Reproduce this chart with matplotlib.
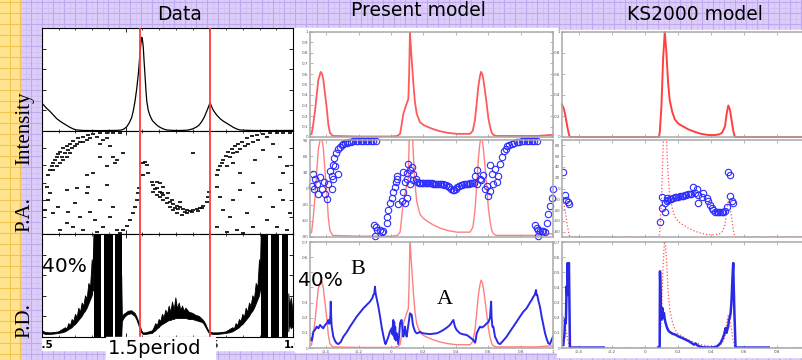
import numpy as np
import matplotlib
matplotlib.use("Agg")
import matplotlib.pyplot as plt
from matplotlib.patches import Rectangle
from matplotlib.transforms import Bbox

W, H = 802, 360
NAN = float("nan")

# ---------------- Data panel (observations, 1.5 period) ----------------
data_red_phases = [0.086, 0.504]

data_int_phase = [-0.5, -0.492, -0.472, -0.452, -0.432, -0.412, -0.392, -0.373, -0.353, -0.333,
                  -0.313, -0.293, -0.25, -0.15, -0.05, -0.024, -0.01, 0.006, 0.02, 0.036,
                  0.046, 0.056, 0.066, 0.076, 0.081, 0.086, 0.091, 0.096, 0.1, 0.105,
                  0.11, 0.116, 0.121, 0.126, 0.135, 0.145, 0.16, 0.175, 0.19, 0.205,
                  0.225, 0.245, 0.28, 0.325, 0.37, 0.4, 0.425, 0.44, 0.454, 0.47,
                  0.484, 0.494, 0.504, 0.514, 0.524, 0.544, 0.564, 0.584, 0.604, 0.624,
                  0.643, 0.663, 0.683, 0.75, 0.85, 0.95, 1.0]
data_int_value = [0.27, 0.255, 0.22, 0.19, 0.155, 0.12, 0.095, 0.075, 0.055, 0.036,
                  0.02, 0.01, 0.005, 0.004, 0.006, 0.01, 0.02, 0.04, 0.075, 0.13,
                  0.2, 0.29, 0.41, 0.56, 0.66, 0.76, 0.85, 0.91, 0.89, 0.82,
                  0.68, 0.53, 0.40, 0.29, 0.2, 0.15, 0.1, 0.075, 0.052, 0.036,
                  0.02, 0.01, 0.006, 0.005, 0.008, 0.02, 0.04, 0.06, 0.09, 0.135,
                  0.19, 0.23, 0.275, 0.235, 0.20, 0.155, 0.12, 0.095, 0.075, 0.055,
                  0.036, 0.02, 0.01, 0.005, 0.004, 0.005, 0.006]

data_pa_phase = [-0.462, -0.452, -0.442, -0.432, -0.422, -0.412, -0.402, -0.392, -0.373, -0.353,
                 -0.333, -0.313, -0.283, -0.253, -0.223, -0.193, -0.153, -0.114, -0.074, -0.034,
                 -0.382, -0.363, -0.343, -0.323, -0.303, -0.293, -0.273, -0.253, -0.233, -0.213,
                 -0.173, -0.153, -0.133, -0.114, -0.094, -0.074, -0.054, -0.432, -0.412, -0.392,
                 -0.373, -0.353, -0.333,
                 -0.233, -0.193, -0.153, -0.114, -0.064, -0.014,
                 0.106, 0.116, 0.125, 0.135, 0.106, 0.404,
                 0.544, 0.554, 0.564, 0.574, 0.584, 0.600, 0.614, 0.633, 0.653, 0.673,
                 0.693, 0.723, 0.753, 0.783, 0.823, 0.863, 0.902, 0.942, 0.982,
                 0.624, 0.643, 0.663, 0.683, 0.713, 0.733, 0.763, 0.793, 0.843, 0.882,
                 0.922, 0.962, 0.604, 0.643, 0.683, 0.773, 0.823, 0.942,
                 -0.472, -0.452, -0.462, -0.482, -0.432, -0.402, -0.353, -0.303, -0.273, -0.233,
                 -0.213, -0.183, -0.153, -0.133, -0.094, -0.074, -0.054, -0.313, -0.253, -0.353,
                 -0.392, -0.173, -0.114, -0.223, -0.293, -0.343,
                 -0.034, -0.014, 0.006, 0.026, 0.042, 0.056, 0.066, 0.072, 0.078,
                 0.155, 0.165, 0.185, 0.205, 0.225, 0.245, 0.265, 0.285, 0.305, 0.325,
                 0.345, 0.365, 0.384, 0.404, 0.424, 0.444, 0.464, 0.484, 0.494, 0.5,
                 0.185, 0.205, 0.225, 0.245, 0.265, 0.285, 0.305, 0.335, 0.365, 0.205,
                 0.165, 0.255, 0.325, 0.185, 0.225, 0.175, 0.215, 0.275, 0.295, 0.315,
                 0.355, 0.395, 0.435, 0.455,
                 0.544, 0.564, 0.584, 0.624, 0.643, 0.683, 0.723, 0.763, 0.803, 0.843,
                 0.882, 0.922, 0.962, 0.982, 0.663, 0.703, 0.544, 0.604, 0.763, 0.902, 0.942]
data_pa_angle = [13, 22, 28, 33.5, 39, 45, 50, 54, 60, 64,
                 68, 73, 77, 80, 83, 85, 86, 86, 87, 87,
                 45, 51, 57, 60, 63, 68, 70, 71, 74, 77,
                 80, 68, 74, 77, 63, 45, 39, 22, 28, 33.5,
                 39, 45, 51,
                 13, 16, 45, 28, 33.5, 51,
                 33.5, 36, 31, 16, 13, 51,
                 13, 22, 28, 33.5, 40, 46, 54, 58, 63, 67,
                 71, 77, 81, 83, 85, 86, 86, 87, 87,
                 45, 51, 54, 58, 63, 68, 71, 75, 80, 68,
                 45, 28, 28, 33.5, 16, 39, 57, 16,
                 -7.3, -19, -30.6, -48, -53.9, -42.2, -13.1, -36.4, -59.7, -19,
                 -51, -65.5, -30.6, -77.2, -59.7, -42.2, -83, -77.2, -83, -71.4,
                 -83, -86, -4.4, -7.3, -10.2, -51,
                 -88.8, -83, -76, -65.5, -53.9, -42.2, -30.6, -19, -10.2,
                 1.5, -4.4, -10.2, -16, -21.8, -27.7, -33.5, -37.6, -41, -43.4,
                 -46.9, -48, -49.2, -48, -46.9, -45.1, -41, -33.5, -24.8, -16,
                 -21.8, -24.8, -30.6, -36.4, -42.2, -48, -53.9, -56.8, -53.9, -1.5,
                 -16, -19, -33.5, 1.5, -7.3, -12, -19, -30, -45, -47,
                 -51, -52, -50, -44,
                 -7.3, -24.8, -48, -59.7, -30.6, -13.1, -53.9, -77.2, -24.8, -65.5,
                 -42.2, -13.1, -83, -53.9, -83, -88.8, -77.2, -86, -1.5, -77.2, -30.6]

data_pd_phase = [-0.50, -0.48, -0.45, -0.42, -0.40, -0.38, -0.36, -0.35, -0.34, -0.33,
                 -0.32, -0.31, -0.30, -0.29, -0.28, -0.27, -0.26, -0.25, -0.24, -0.23,
                 -0.22, -0.21, -0.20, -0.195, -0.19, NAN,
                 -0.024, -0.02, -0.01, 0.0, 0.016, 0.036, 0.056, 0.066, 0.075, 0.086,
                 0.096, 0.105, 0.12, 0.14, 0.16, 0.17, 0.18, 0.19, 0.20, 0.21,
                 0.22, 0.23, 0.24, 0.25, 0.26, 0.27, 0.28, 0.29, 0.30, 0.31,
                 0.32, 0.33, 0.34, 0.35, 0.36, 0.38, 0.40, 0.42, 0.44, 0.46,
                 0.47, 0.48, 0.49, 0.50, 0.52, 0.55, 0.58, 0.60, 0.62, 0.64,
                 0.65, 0.66, 0.67, 0.68, 0.69, 0.70, 0.71, 0.72, 0.73, 0.74,
                 0.75, 0.76, 0.77, 0.78, 0.79, 0.80, 0.805, 0.81, NAN,
                 0.975, 0.98, 0.99, 1.0]
data_pd_low = [0.04, 0.025, 0.025, 0.03, 0.035, 0.04, 0.05, 0.06, 0.07, 0.08,
               0.09, 0.11, 0.12, 0.14, 0.16, 0.18, 0.20, 0.23, 0.25, 0.28,
               0.32, 0.36, 0.40, 0.45, 0.45, NAN,
               0.0, 0.15, 0.18, 0.20, 0.22, 0.225, 0.20, 0.17, 0.13, 0.08,
               0.04, 0.025, 0.025, 0.03, 0.035, 0.05, 0.06, 0.08, 0.09, 0.11,
               0.12, 0.13, 0.14, 0.15, 0.16, 0.16, 0.17, 0.17, 0.18, 0.18,
               0.18, 0.18, 0.18, 0.18, 0.18, 0.17, 0.17, 0.16, 0.15, 0.14,
               0.12, 0.09, 0.06, 0.035, 0.025, 0.025, 0.03, 0.035, 0.04, 0.05,
               0.06, 0.07, 0.08, 0.09, 0.11, 0.12, 0.14, 0.16, 0.18, 0.20,
               0.23, 0.25, 0.28, 0.32, 0.36, 0.40, 0.45, 0.45, NAN,
               0.05, 0.12, 0.08, 0.10]
data_pd_high = [0.06, 0.045, 0.04, 0.045, 0.05, 0.07, 0.09, 0.08, 0.13, 0.11,
                0.17, 0.15, 0.22, 0.19, 0.28, 0.24, 0.33, 0.30, 0.40, 0.37,
                0.52, 0.48, 0.75, 0.62, 1.0, NAN,
                0.6, 0.19, 0.22, 0.23, 0.25, 0.255, 0.23, 0.20, 0.16, 0.11,
                0.06, 0.04, 0.04, 0.05, 0.06, 0.09, 0.13, 0.11, 0.17, 0.15,
                0.22, 0.19, 0.26, 0.22, 0.30, 0.24, 0.34, 0.26, 0.38, 0.27,
                0.33, 0.26, 0.30, 0.25, 0.28, 0.24, 0.23, 0.21, 0.20, 0.17,
                0.15, 0.12, 0.08, 0.05, 0.04, 0.04, 0.045, 0.05, 0.07, 0.09,
                0.08, 0.13, 0.11, 0.17, 0.15, 0.22, 0.19, 0.28, 0.24, 0.33,
                0.30, 0.40, 0.37, 0.52, 0.48, 0.75, 0.62, 1.0, NAN,
                0.42, 0.30, 0.38, 0.25]
data_pd_block_start = [-0.19, -0.13, -0.066, 0.81, 0.868, 0.934]
data_pd_block_end = [-0.145, -0.078, -0.024, 0.853, 0.918, 0.972]

data_xticks = [-0.5, 0.0, 0.5, 1.0]
data_xticklabels = ["-0.5", "", "0.5", "1.0"]  # "0" sits under the "1.5period" box

# ---------------- Present model ----------------
present_int_phase = [-0.50, -0.49, -0.48, -0.469, -0.449, -0.434, -0.425, -0.418, -0.408, -0.397,
                     -0.387, -0.377, -0.36, -0.2, 0.0, 0.04, 0.056, 0.066, 0.076, 0.097,
                     0.107, 0.112, 0.117, 0.125, 0.138, 0.148, 0.159, 0.179, 0.20, 0.22,
                     0.26, 0.302, 0.35, 0.405, 0.488, 0.505, 0.518, 0.529, 0.539, 0.549,
                     0.556, 0.563, 0.570, 0.58, 0.591, 0.601, 0.611, 0.622, 0.632, 0.65,
                     0.9, 0.99, 1.0]
present_int_value = [0.02, 0.03, 0.12, 0.25, 0.54, 0.62, 0.60, 0.55, 0.42, 0.28,
                     0.12, 0.04, 0.01, 0.005, 0.005, 0.01, 0.03, 0.12, 0.22, 0.32,
                     0.36, 0.6, 1.0, 0.8, 0.51, 0.33, 0.22, 0.14, 0.115, 0.10,
                     0.075, 0.055, 0.04, 0.03, 0.03, 0.06, 0.16, 0.32, 0.48, 0.58,
                     0.62, 0.60, 0.55, 0.44, 0.31, 0.18, 0.10, 0.04, 0.02, 0.01,
                     0.01, 0.02, 0.02]

present_pa_phase = [-0.481, -0.469, -0.457, -0.475, -0.438, -0.426, -0.407, -0.389, -0.377, -0.358,
                    -0.346, -0.327, -0.364, -0.395, -0.451, -0.49, -0.415,
                    -0.366, -0.360, -0.352, -0.340, -0.325, -0.304, -0.284, -0.257, -0.233, -0.202,
                    -0.171, -0.140, -0.109, -0.093, -0.315, -0.294, -0.27, -0.245, -0.218, -0.186,
                    -0.155, -0.124,
                    -0.103, -0.093, -0.084, -0.068, -0.047, -0.099, -0.058,
                    -0.027, -0.023, -0.017, -0.006, 0.004, 0.014, 0.025, 0.031, 0.039,
                    0.045, 0.066, 0.086, 0.097, 0.076,
                    0.035, 0.076, 0.107, 0.117, 0.138, 0.154, 0.097, 0.086, 0.117, 0.138, 0.127, 0.1,
                    0.16, 0.17, 0.18, 0.19, 0.20, 0.21, 0.22, 0.23, 0.24, 0.25, 0.26, 0.27,
                    0.28, 0.29, 0.30, 0.31, 0.32, 0.33, 0.34, 0.35, 0.36, 0.37, 0.38, 0.39,
                    0.40, 0.41, 0.42, 0.43, 0.44, 0.45, 0.46, 0.47, 0.48, 0.49, 0.50, 0.51,
                    0.519, 0.529, 0.549, 0.611, 0.622, 0.642, 0.529, 0.555, 0.580, 0.601,
                    0.611, 0.632, 0.652, 0.57, 0.59,
                    0.662, 0.673, 0.683, 0.698, 0.718, 0.745, 0.776, 0.807, 0.838, 0.869,
                    0.900, 0.708, 0.73, 0.76, 0.79, 0.822, 0.853, 0.885,
                    0.889, 0.899, 0.909, 0.930, 0.951, 0.909, 0.961, 0.971, 0.981, 0.992,
                    1.0, 0.92, 0.94]
present_pa_angle = [27, 18, 8.5, -1, 22, -1, -10, 8.5, 33, 18,
                    41, 27, -1, -20, -10, 5, 12,
                    24, 43, 56, 65, 73, 81, 84, 86, 87.5, 88,
                    88, 88.5, 88.5, 89, 77, 82.5, 85, 87, 88, 88,
                    88.5, 88.5,
                    -67, -72, -77, -77, -78, -88, -80,
                    -64, -52, -39, -26, -17, -7, 2, 12, 18,
                    -29, -23, -26, -17, -7,
                    24, 31, 46, 34, 27, 18, 18, 12, 8.5, 15, 40, 28,
                    12, 11, 11, 10.5, 10.5, 10, 10, 9.5, 9.5, 9.5, 9, 9,
                    9, 8.5, 8.5, 8, 7.5, 7, 6, 4, 2, 0, -2, -3,
                    -1, 3, 5, 6, 7, 7.5, 8, 8.5, 9, 9.5, 10, 11,
                    24, 34, 18, 43, 27, 37, 8.5, 15, -1, -14,
                    -4, 8.5, 12, 25, 5,
                    24, 46, 59, 70, 78, 83, 86, 87.5, 88, 88,
                    88.5, 74, 81, 85, 87, 88, 88, 88.5,
                    -67, -74, -77, -78, -80, -89, -64, -48, -33, -17,
                    -1, -79, -79]

present_pd_phase = [-0.5, -0.496, -0.489, -0.479, -0.469, -0.459, -0.448, -0.438, -0.428, -0.418,
                    -0.408, -0.397, -0.392, -0.387, -0.382, -0.377, -0.374, -0.372, -0.369, -0.366,
                    -0.356, -0.345, -0.335, -0.325, -0.31, -0.294, -0.273, -0.253, -0.232, -0.212,
                    -0.191, -0.171, -0.150, -0.130, -0.115, -0.109, -0.103, -0.099, -0.096, -0.093,
                    -0.085, -0.078, -0.068, -0.058, -0.047, -0.037, -0.033, -0.025, -0.016, -0.006,
                    0.004, 0.009, 0.012, 0.014, 0.017, 0.02, 0.023, 0.026, 0.03, 0.035,
                    0.04, 0.045, 0.05, 0.056, 0.061, 0.066, 0.071, 0.076, 0.081, 0.086,
                    0.092, 0.097, 0.107, 0.117, 0.122, 0.128, 0.133, 0.138, 0.148, 0.158,
                    0.169, 0.179, 0.19, 0.2, 0.22, 0.241, 0.26, 0.282, 0.30, 0.323,
                    0.345, 0.364, 0.375, 0.385, 0.395, 0.405, 0.426, 0.446, 0.467, 0.488,
                    0.508, 0.519, 0.524, 0.529, 0.539, 0.549, 0.56, 0.570, 0.580, 0.591,
                    0.601, 0.606, 0.611, 0.618, 0.621, 0.626, 0.632, 0.642, 0.652, 0.662,
                    0.673, 0.69, 0.714, 0.735, 0.755, 0.776, 0.796, 0.817, 0.837, 0.858,
                    0.870, 0.879, 0.887, 0.895, 0.899, 0.903, 0.909, 0.92, 0.930, 0.941,
                    0.951, 0.961, 0.971, 0.981, 0.99, 1.0]
present_pd_value = [0.05, 0.064, 0.05, 0.108, 0.12, 0.141, 0.13, 0.152, 0.14, 0.130,
                    0.15, 0.163, 0.17, 0.185, 0.16, 0.163, 0.22, 0.306, 0.2, 0.141,
                    0.075, 0.045, 0.031, 0.026, 0.04, 0.075, 0.105, 0.141, 0.175, 0.207,
                    0.235, 0.262, 0.285, 0.306, 0.33, 0.350, 0.36, 0.405, 0.37, 0.350,
                    0.31, 0.273, 0.21, 0.141, 0.08, 0.031, 0.026, 0.05, 0.075, 0.11,
                    0.130, 0.09, 0.16, 0.185, 0.08, 0.17, 0.06, 0.14, 0.05, 0.097,
                    0.06, 0.026, 0.08, 0.163, 0.18, 0.185, 0.12, 0.075, 0.10, 0.141,
                    0.09, 0.075, 0.15, 0.229, 0.225, 0.218, 0.17, 0.141, 0.11, 0.097,
                    0.1, 0.108, 0.1, 0.097, 0.094, 0.092, 0.094, 0.097, 0.105, 0.119,
                    0.135, 0.152, 0.17, 0.185, 0.14, 0.119, 0.097, 0.09, 0.086, 0.07,
                    0.053, 0.035, 0.06, 0.097, 0.12, 0.141, 0.135, 0.141, 0.15, 0.163,
                    0.17, 0.185, 0.2, 0.306, 0.2, 0.141, 0.141, 0.075, 0.053, 0.031,
                    0.026, 0.045, 0.075, 0.11, 0.141, 0.175, 0.207, 0.24, 0.262, 0.30,
                    0.32, 0.339, 0.35, 0.383, 0.35, 0.350, 0.317, 0.27, 0.207, 0.15,
                    0.097, 0.06, 0.031, 0.026, 0.05, 0.075]

present_xticks = [-0.4, -0.2, 0, 0.2, 0.4, 0.6, 0.8, 1.0]
present_xticklabels = ["-0.4", "-0.2", "0", "0.2", "0.4", "0.6", "0.8", "1"]
present_int_yticks = [0, 0.1, 0.2, 0.3, 0.4, 0.5, 0.6, 0.7, 0.8, 0.9, 1.0]
present_int_yticklabels = ["0", "0.1", "0.2", "0.3", "0.4", "0.5", "0.6", "0.7", "0.8", "0.9", "1"]
pa_yticks = [-90, -60, -30, 0, 30, 60, 90]
pa_yticklabels = ["-90", "-60", "-30", "0", "30", "60", "90"]
pd_yticks = [0, 0.1, 0.2, 0.3, 0.4, 0.5, 0.6, 0.7]
pd_yticklabels = ["0", "0.1", "0.2", "0.3", "0.4", "0.5", "0.6", "0.7"]
# in the present-model P.D. panel the "40%" note hides two of the labels
present_pd_yticklabels = ["0", "0.1", "0.2", "0.3", "", "", "0.6", "0.7"]

# ---------------- KS2000 model ----------------
ks_int_phase = [-0.503, -0.49, -0.48, -0.47, -0.46, -0.455, 0.085, 0.09, 0.10, 0.11,
                0.12, 0.13, 0.14, 0.15, 0.165, 0.18, 0.20, 0.22, 0.26, 0.30,
                0.34, 0.38, 0.42, 0.45, 0.467, 0.485, 0.495, 0.505, 0.515, 0.525,
                0.535, 0.545, 0.97]
ks_int_value = [0.31, 0.26, 0.18, 0.09, 0.02, 0.0, 0.0, 0.05, 0.3, 0.75,
                1.0, 0.8, 0.52, 0.35, 0.24, 0.17, 0.13, 0.11, 0.075, 0.05,
                0.03, 0.02, 0.018, 0.025, 0.04, 0.10, 0.22, 0.30, 0.26, 0.16,
                0.06, 0.0, 0.0]

ks_pa_phase = [-0.497, -0.485, -0.467, -0.461, -0.479,
               0.091, 0.103, 0.103, 0.121, 0.121, 0.133,
               0.131, 0.14, 0.152, 0.16, 0.17, 0.182, 0.19, 0.20, 0.21, 0.222,
               0.23, 0.24, 0.25, 0.263, 0.27, 0.28, 0.293, 0.303, 0.313, 0.323,
               0.323, 0.343, 0.354, 0.374, 0.384, 0.394, 0.404, 0.41, 0.424, 0.435,
               0.444, 0.455, 0.465, 0.475, 0.485, 0.495, 0.505, 0.515, 0.515, 0.525, 0.535]
ks_pa_angle = [31, -12, -25, -29, -21,
               -62, -16, -36, -27, -44, -18,
               -24, -22, -20, -19, -18, -16, -15.5, -15, -14.5, -14,
               -13, -12.5, -12, -11, -10.5, -10, 3, -9, 0, -12,
               -27, -15, -9, -18, -24, -31, -37, -39, -43, -44,
               -44, -44.5, -44, -43, -41, -34, 31, 25, -14, -24, -27]

ks_pd_phase = [-0.495, -0.492, -0.489, -0.487, -0.485, -0.482, -0.479, -0.477, -0.475, -0.472,
               -0.469, -0.467, -0.465, -0.463, -0.461, -0.458, -0.455, -0.25, NAN, 0.08,
               0.089, 0.091, 0.096, 0.101, 0.105, 0.110, 0.115, 0.120, 0.125, 0.135,
               0.145, 0.165, 0.185, 0.205, 0.226, 0.247, 0.267, 0.287, 0.297, 0.307,
               0.317, 0.333, 0.348, 0.388, 0.428, 0.445, 0.458, 0.470, 0.479, 0.489,
               0.494, 0.499, 0.504, 0.509, 0.514, 0.519, 0.524, 0.529, 0.532, 0.535,
               0.538, 0.543, 0.549, 0.75]
ks_pd_value = [0.02, 0.06, 0.077, 0.12, 0.187, 0.16, 0.19, 0.30, 0.407, 0.35,
               0.561, 0.45, 0.473, 0.52, 0.561, 0.30, 0.003, 0.003, NAN, 0.003,
               0.003, 0.506, 0.30, 0.187, 0.264, 0.20, 0.231, 0.19, 0.165, 0.13,
               0.110, 0.095, 0.088, 0.075, 0.066, 0.055, 0.044, 0.03, 0.022, 0.029,
               0.018, 0.010, 0.005, 0.003, 0.005, 0.018, 0.033, 0.06, 0.088, 0.132,
               0.10, 0.121, 0.14, 0.187, 0.20, 0.231, 0.30, 0.429, 0.50, 0.561,
               0.40, 0.20, 0.003, 0.003]

ks_xticks = [-0.4, -0.2, 0, 0.2, 0.4, 0.6, 0.8]
ks_xticklabels = ["-0.4", "-0.2", "0", "0.2", "0.4", "0.6", "0.8"]
ks_int_yticks = [0, 0.2, 0.4, 0.6, 0.8, 1.0]
ks_int_yticklabels = ["0", "0.2", "0.4", "0.6", "0.8", "1"]
ks_pa_yticks = [-80, -60, -40, -20, 0, 20, 40, 60, 80]
ks_pa_yticklabels = ["-80", "-60", "-40", "-20", "0", "20", "40", "60", "80"]


def px_axes(fig, x0, y0, x1, y1, **kw):
    return fig.add_axes([x0 / W, 1 - y1 / H, (x1 - x0) / W, (y1 - y0) / H], **kw)


def style_data(ax):
    ax.set_facecolor("white")
    for sp in ax.spines.values():
        sp.set_color("black")
        sp.set_linewidth(0.8)
    ax.set_xlim(-0.5, 1.0)
    ax.tick_params(direction="in", length=3, width=0.6, top=True, right=True,
                   labelleft=False, labelbottom=False)
    ax.set_xticks(data_xticks)
    ax.set_xticks(np.arange(-0.5, 1.01, 0.1), minor=True)
    ax.tick_params(which="minor", direction="in", length=1.5, width=0.5, top=True)
    for p in data_red_phases:
        ax.axvline(p, color="#ff3b3b", lw=1.3, zorder=3)


def style_model(ax, xlim, xticks):
    for sp in ax.spines.values():
        sp.set_color("#a8a8a8")
        sp.set_linewidth(1.1)
    ax.set_xlim(*xlim)
    ax.set_xticks(xticks)
    ax.tick_params(direction="in", length=2, width=0.5, color="#999999",
                   labelsize=3, labelcolor="#555555", pad=1.2, top=True, right=True,
                   labelbottom=False)


fig = plt.figure(figsize=(W / 100, H / 100), dpi=100)

# background slide: yellow strip + lilac grid + white picture areas
bg = fig.add_axes([0, 0, 1, 1], zorder=-2)
bg.set_xlim(0, W)
bg.set_ylim(H, 0)
bg.axis("off")
bg.add_patch(Rectangle((0, 0), W, H, color="#dccdf8", zorder=0))
bg.add_patch(Rectangle((0, 0), 20, H, color="#ffe38e", zorder=0))
for gx in np.arange(25.5, W, 11):
    bg.plot([gx, gx], [0, H], color="#d0bdf5", lw=0.5, zorder=1)
for gy in np.arange(7.5, H, 11):
    bg.plot([20, W], [gy, gy], color="#d0bdf5", lw=0.5, zorder=1)
for gx in np.arange(20, W, 11):
    bg.plot([gx, gx], [0, H], color="#bea8ef", lw=0.8, zorder=1)
for gy in np.arange(2, H, 11):
    bg.plot([20, W], [gy, gy], color="#bea8ef", lw=0.8, zorder=1)
    bg.plot([0, 20], [gy, gy], color="#f0c650", lw=0.8, zorder=1)
for gx in [9.5, 19.5]:
    bg.plot([gx, gx], [0, H], color="#f0c650", lw=0.8, zorder=1)
bg.add_patch(Rectangle((42, 28), 253, 322, color="white", zorder=2))
bg.add_patch(Rectangle((295, 28), 262, 324, color="white", zorder=2))
bg.add_patch(Rectangle((557, 30), 245, 327, color="white", zorder=2))

bg.text(180, 15, "Data", ha="center", va="center", fontsize=13.5, zorder=3)
bg.text(418, 11, "Present model", ha="center", va="center", fontsize=13.5, zorder=3)
bg.text(695, 15, "KS2000 model", ha="center", va="center", fontsize=13.5, zorder=3)
serif = ["Liberation Serif", "DejaVu Serif"]
bg.text(25, 128, "Intensity", rotation=90, ha="center", va="center", fontsize=15, family=serif, zorder=3)
bg.text(25, 215, "P.A.", rotation=90, ha="center", va="center", fontsize=15, family=serif, zorder=3)
bg.text(25, 321, "P.D.", rotation=90, ha="center", va="center", fontsize=15, family=serif, zorder=3)

# ---- Data column ----
d_int = px_axes(fig, 42, 28, 293, 131)
d_pa = px_axes(fig, 42, 131, 293, 234)
d_pd = px_axes(fig, 42, 234, 293, 337)
for ax in (d_int, d_pa, d_pd):
    style_data(ax)

d_int.plot(data_int_phase, data_int_value, color="black", lw=0.9)
d_int.set_ylim(0, 1)
d_int.set_yticks([0.2, 0.4, 0.6, 0.8])

d_pa.plot(data_pa_phase, data_pa_angle, ls="none", marker="_", ms=2.4, mew=1.2, color="black")
d_pa.set_ylim(-90, 90)
d_pa.set_yticks([-60, -30, 0, 30, 60])

d_pd.fill_between(data_pd_phase, data_pd_low, data_pd_high, color="black", lw=0.6)
for s, e in zip(data_pd_block_start, data_pd_block_end):
    d_pd.axvspan(s, e, color="black", lw=0)
d_pd.set_ylim(0, 1)
d_pd.set_yticks([0.2, 0.4, 0.6, 0.8])
d_pd.set_xticklabels(data_xticklabels)
d_pd.tick_params(labelbottom=True, labelsize=7.5, pad=2)
clip = Bbox.from_extents(42, 0, 295, H)
for lbl in d_pd.get_xticklabels():
    lbl.set_fontweight("bold")
    lbl.set_clip_box(clip)
    lbl.set_clip_on(True)

# ---- Present model column ----
p_lim = (-0.5, 1.0)
p_int = px_axes(fig, 310, 32, 553, 137)
p_pa = px_axes(fig, 310, 140, 553, 237)
p_pd = px_axes(fig, 310, 242, 553, 348)
for ax in (p_int, p_pa, p_pd):
    style_model(ax, p_lim, present_xticks)

p_int.plot(present_int_phase, present_int_value, color="#ff5a5a", lw=1.3)
p_int.set_ylim(0, 1)
p_int.set_yticks(present_int_yticks)
p_int.set_yticklabels(present_int_yticklabels)

tw = p_pa.twinx()
tw.plot(present_int_phase, present_int_value, color="#ff8080", lw=1.0)
tw.set_ylim(0, 0.6)
tw.set_xlim(*p_lim)
tw.axis("off")
p_pa.set_zorder(tw.get_zorder() + 1)
p_pa.patch.set_visible(False)
p_pa.plot(present_pa_phase, present_pa_angle, ls="none", marker="o", ms=4.6,
          mfc="none", mec="#2d2dff", mew=0.8, clip_on=False)
p_pa.set_ylim(-90, 90)
p_pa.set_yticks(pa_yticks)
p_pa.set_yticklabels(pa_yticklabels)

tw = p_pd.twinx()
tw.plot(present_int_phase, present_int_value, color="#ff8080", lw=1.0)
tw.set_ylim(0, 0.97)
tw.set_xlim(*p_lim)
tw.axis("off")
p_pd.set_zorder(tw.get_zorder() + 1)
p_pd.patch.set_visible(False)
p_pd.plot(present_pd_phase, present_pd_value, color="#2a2ae6", lw=1.4)
p_pd.set_ylim(0, 0.7)
p_pd.set_yticks(pd_yticks)
p_pd.set_yticklabels(present_pd_yticklabels)
p_pd.set_xticklabels(present_xticklabels)
p_pd.tick_params(labelbottom=True)

# ---- KS2000 model column ----
k_lim = (-0.503, 0.97)
k_int = px_axes(fig, 562, 32, 805, 137)
k_pa = px_axes(fig, 562, 140, 805, 237)
k_pd = px_axes(fig, 562, 242, 805, 348)
for ax in (k_int, k_pa, k_pd):
    style_model(ax, k_lim, ks_xticks)

k_int.plot(ks_int_phase, ks_int_value, color="#ff4040", lw=1.4, clip_on=False)
k_int.set_ylim(0, 1)
k_int.set_yticks(ks_int_yticks)
k_int.set_yticklabels(ks_int_yticklabels)

tw = k_pa.twinx()
tw.plot(ks_int_phase, ks_int_value, color="#ff5050", lw=0.9, ls=":")
tw.set_ylim(0, 0.8)
tw.set_xlim(*k_lim)
tw.axis("off")
k_pa.set_zorder(tw.get_zorder() + 1)
k_pa.patch.set_visible(False)
k_pa.plot(ks_pa_phase, ks_pa_angle, ls="none", marker="o", ms=4.6,
          mfc="none", mec="#2d2dff", mew=0.8)
k_pa.set_ylim(-90, 90)
k_pa.set_yticks(ks_pa_yticks)
k_pa.set_yticklabels(ks_pa_yticklabels)

tw = k_pd.twinx()
tw.plot(ks_int_phase, ks_int_value, color="#ff5050", lw=0.9, ls=":")
tw.set_ylim(0, 0.95)
tw.set_xlim(*k_lim)
tw.axis("off")
k_pd.set_zorder(tw.get_zorder() + 1)
k_pd.patch.set_visible(False)
k_pd.plot(ks_pd_phase, ks_pd_value, color="#2a2ae6", lw=1.8)
k_pd.set_ylim(0, 0.7)
k_pd.set_yticks(pd_yticks)
k_pd.set_yticklabels(pd_yticklabels)
k_pd.set_xticklabels(ks_xticklabels)
k_pd.tick_params(labelbottom=True)

# ---- annotations on top ----
ov = fig.add_axes([0, 0, 1, 1], zorder=10)
ov.set_xlim(0, W)
ov.set_ylim(H, 0)
ov.axis("off")
ov.add_patch(Rectangle((106, 337), 109, 23, color="white"))
ov.text(155, 348, "1.5period", ha="center", va="center", fontsize=14)
ov.text(64, 266, "40%", ha="center", va="center", fontsize=14.5)
ov.text(320, 280, "40%", ha="center", va="center", fontsize=14.5)
ov.text(358, 270, "B", ha="center", va="center", fontsize=16, family=serif)
ov.text(445, 299, "A", ha="center", va="center", fontsize=16, family=serif)

fig.savefig("out.png", dpi=100)
